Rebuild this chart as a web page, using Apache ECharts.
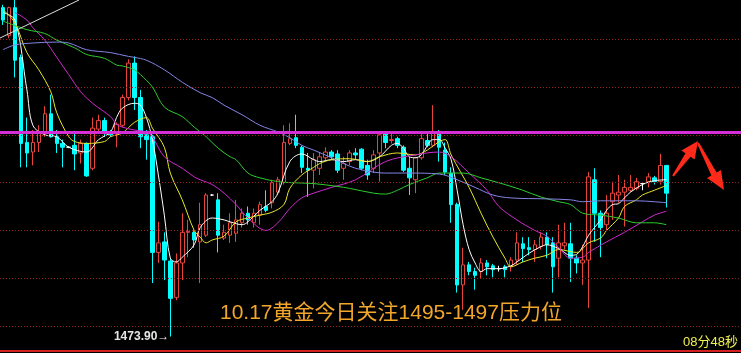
<!DOCTYPE html>
<html><head><meta charset="utf-8">
<script src="https://cdn.jsdelivr.net/npm/echarts@6/dist/echarts.min.js"></script>
<style>html,body{margin:0;padding:0;background:#000;overflow:hidden}#c{width:741px;height:353px}</style>
</head><body><div id="c"></div>
<script>
const opens = [1508.3,1505.4,1508.3,1503.1,1494.2,1493.2,1494.2,1495.3,1497.2,1494.8,1494.1,1493.7,1493.9,1493.1,1494.1,1491.5,1495.6,1496.5,1495.2,1495.2,
1496.0,1498.9,1502.5,1498.9,1495.0,1494.8,1482.7,1483.8,1481.8,1478.0,1481.6,1484.8,1484.8,1483.8,1484.5,1488.7,1488.2,1484.2,1484.5,1484.7,
1485.8,1486.8,1485.8,1486.6,1487.5,1487.9,1489.0,1490.0,1494.1,1494.7,1493.7,1491.5,1491.3,1491.5,1492.6,1493.2,1493.0,1491.5,1492.2,1493.1,
1493.5,1491.8,1491.5,1493.1,1495.2,1494.4,1494.6,1493.7,1491.5,1490.3,1492.6,1494.4,1493.9,1495.3,1493.4,1491.0,1487.7,1479.3,1481.4,1480.7,
1480.7,1481.6,1481.3,1481.0,1481.2,1481.2,1481.9,1483.6,1483.2,1483.0,1483.3,1484.3,1483.7,1482.1,1483.4,1483.6,1482.1,1481.6,1481.9,1490.3,
1486.8,1485.6,1488.0,1488.7,1489.0,1489.2,1489.4,1489.9,1490.1,1490.5,1490.1,1491.8];
const closes = [1507.0,1508.3,1502.8,1494.1,1493.1,1494.2,1495.3,1497.2,1494.8,1494.1,1493.7,1493.7,1493.0,1494.1,1490.7,1495.7,1496.5,1495.3,1495.0,1496.1,
1498.9,1502.5,1498.9,1494.8,1494.5,1482.7,1483.7,1481.9,1477.9,1481.6,1484.8,1484.9,1484.0,1485.6,1488.7,1488.7,1484.5,1484.8,1485.8,1486.1,
1486.8,1486.1,1486.8,1487.7,1487.1,1490.0,1490.3,1494.2,1494.6,1493.9,1491.6,1491.3,1492.4,1492.7,1493.2,1492.7,1491.3,1492.0,1493.1,1492.9,
1491.5,1490.8,1492.9,1495.0,1494.2,1494.5,1493.9,1491.3,1490.5,1492.6,1494.6,1493.9,1495.2,1493.7,1491.1,1487.7,1479.3,1481.4,1480.7,1480.3,
1481.6,1481.2,1480.9,1481.0,1480.9,1481.9,1483.7,1483.1,1483.0,1483.5,1484.3,1483.5,1481.2,1483.7,1483.7,1482.1,1481.6,1481.9,1490.6,1486.8,
1485.3,1486.8,1488.9,1489.0,1489.5,1489.5,1490.1,1489.9,1490.6,1490.1,1491.8,1488.9];
const lows = [1506.5,1505.1,1501.0,1491.6,1491.6,1491.8,1493.2,1494.8,1494.7,1493.1,1491.6,1493.6,1491.3,1492.0,1490.6,1491.3,1495.3,1494.8,1494.8,1493.7,
1495.8,1498.6,1497.6,1493.6,1492.4,1479.5,1481.6,1479.8,1473.9,1477.7,1479.8,1482.2,1483.2,1479.5,1484.3,1488.6,1482.7,1484.0,1483.7,1483.8,
1485.3,1485.6,1485.3,1485.6,1486.9,1487.3,1488.7,1489.8,1493.9,1493.6,1491.0,1488.5,1489.4,1490.8,1492.2,1492.4,1491.0,1490.3,1491.8,1492.4,
1491.3,1490.3,1491.0,1490.1,1493.6,1494.1,1493.6,1491.1,1488.7,1488.9,1492.4,1493.7,1493.7,1492.2,1490.8,1485.8,1478.5,1476.7,1480.3,1478.8,
1480.0,1480.3,1480.1,1480.7,1480.1,1480.7,1481.4,1481.7,1482.4,1481.7,1483.0,1482.1,1478.5,1480.1,1483.0,1479.6,1480.5,1479.3,1476.9,1483.8,
1482.2,1485.0,1486.1,1487.9,1485.4,1489.0,1489.2,1489.2,1489.5,1489.8,1489.8,1487.4];
const highs = [1508.6,1508.4,1509.1,1503.4,1496.8,1495.5,1496.0,1498.0,1499.2,1495.5,1494.5,1493.8,1495.2,1494.5,1494.2,1496.8,1497.1,1496.8,1495.5,1496.3,
1499.2,1502.9,1503.2,1499.7,1495.5,1495.0,1485.9,1484.8,1482.1,1482.6,1486.8,1486.1,1485.0,1487.9,1488.9,1488.8,1488.9,1485.6,1486.8,1488.2,
1487.3,1487.5,1487.3,1488.0,1489.2,1490.3,1490.6,1496.0,1496.2,1497.1,1493.9,1493.1,1493.1,1493.2,1493.7,1493.4,1493.4,1492.7,1493.4,1493.6,
1493.6,1492.4,1493.4,1495.3,1495.3,1495.3,1494.8,1493.9,1492.7,1492.7,1495.3,1495.3,1498.1,1495.5,1494.2,1491.6,1487.9,1483.2,1481.7,1481.1,
1482.1,1481.9,1481.5,1481.3,1481.4,1482.2,1484.8,1484.3,1484.3,1484.0,1484.8,1484.8,1484.3,1485.6,1485.8,1485.8,1482.4,1483.5,1491.1,1491.5,
1487.1,1488.7,1490.1,1490.8,1490.3,1490.8,1490.5,1490.0,1491.0,1490.7,1493.0,1491.8];

// moving averages: [candle index, price]
const ma5 = [[0,1507.8],[2,1507.0],[4,1499.7],[5,1496.0],[7,1495.0],[9,1494.8],[11,1493.7],[14,1493.2],[16,1494.5],[18,1495.3],[19,1496.8],[20,1497.8],[22,1498.3],[23,1498.1],[24,1496.8],[25,1494.5],[26,1490.8],[27,1486.6],[28,1482.1],[29,1481.7],[30,1482.2],[32,1483.5],[33,1485.3],[35,1486.3],[37,1486.1],[38,1485.9],[40,1485.6],[42,1486.5],[43,1487.1],[45,1488.0],[46,1488.9],[48,1492.2],[50,1493.0],[52,1492.4],[53,1492.2],[55,1492.4],[57,1492.2],[59,1492.4],[61,1492.2],[63,1492.7],[65,1493.9],[66,1494.1],[67,1493.6],[68,1492.7],[69,1492.6],[70,1492.9],[72,1494.5],[73,1494.5],[74,1493.6],[75,1492.4],[76,1489.2],[77,1485.6],[78,1483.0],[79,1481.6],[80,1480.7],[81,1481.0],[83,1481.0],[85,1481.3],[86,1481.7],[88,1482.6],[90,1483.3],[91,1483.5],[93,1483.1],[95,1482.4],[96,1482.5],[97,1483.3],[98,1484.5],[100,1486.1],[101,1487.1],[102,1487.7],[103,1487.8],[104,1488.4],[105,1489.0],[107,1489.8],[109,1490.2],[111,1490.3]];
const ma10 = [[0,1508.1],[2,1506.7],[4,1503.6],[6,1501.8],[8,1499.5],[9,1497.3],[11,1494.8],[12,1494.3],[14,1494.1],[17,1494.3],[18,1494.8],[20,1495.2],[22,1496.3],[24,1496.8],[25,1495.7],[27,1493.7],[28,1491.0],[30,1488.2],[32,1485.0],[33,1484.3],[34,1483.7],[35,1484.0],[37,1484.4],[39,1485.9],[41,1486.3],[43,1486.6],[45,1486.9],[47,1487.7],[48,1489.4],[50,1490.8],[52,1491.6],[53,1492.0],[55,1492.4],[58,1492.5],[61,1492.2],[63,1492.7],[66,1493.1],[69,1492.9],[71,1493.4],[73,1494.3],[74,1494.5],[75,1492.9],[78,1489.5],[80,1486.8],[82,1484.3],[84,1482.1],[85,1481.2],[87,1481.7],[89,1482.1],[91,1482.4],[93,1483.0],[96,1482.7],[98,1483.7],[100,1484.2],[101,1485.0],[103,1486.3],[104,1487.5],[106,1488.2],[107,1488.7],[109,1489.2],[111,1489.7]];
const ma20 = [[2,1507.8],[4,1507.0],[5,1506.2],[7,1504.9],[9,1503.1],[11,1501.3],[13,1499.5],[15,1498.3],[18,1496.9],[19,1496.1],[20,1495.8],[22,1495.5],[24,1495.3],[25,1494.8],[27,1492.7],[30,1491.5],[32,1490.6],[33,1490.3],[35,1489.8],[37,1488.9],[39,1487.7],[41,1486.3],[44,1485.0],[46,1485.8],[48,1487.3],[50,1488.4],[52,1488.9],[55,1489.5],[59,1490.3],[64,1492.2],[69,1492.9],[73,1493.2],[75,1492.7],[78,1491.0],[81,1489.2],[83,1487.5],[86,1486.1],[89,1485.0],[91,1484.4],[93,1483.2],[95,1482.1],[97,1482.2],[98,1482.7],[101,1483.8],[104,1484.8],[107,1485.9],[109,1486.6],[111,1487.0]];
const ma40 = [[0,1506.9],[4,1506.0],[7,1505.6],[9,1504.9],[12,1504.1],[14,1503.4],[17,1503.0],[19,1502.3],[20,1502.2],[22,1501.8],[23,1501.3],[25,1500.0],[27,1497.9],[30,1496.9],[32,1495.8],[34,1494.8],[36,1493.6],[38,1492.7],[39,1492.4],[41,1491.0],[43,1490.5],[46,1490.1],[48,1490.0],[52,1489.9],[56,1489.6],[58,1489.4],[62,1488.9],[64,1488.8],[66,1489.2],[68,1489.8],[71,1490.5],[73,1491.0],[77,1491.0],[80,1490.5],[84,1489.8],[87,1489.2],[90,1488.5],[93,1488.0],[95,1487.7],[97,1486.8],[100,1486.6],[103,1486.3],[106,1485.8],[109,1485.8],[111,1485.6]];
const ma60 = [[0,1503.9],[2,1504.4],[5,1504.6],[9,1504.7],[11,1504.6],[14,1503.9],[18,1503.6],[21,1503.2],[22,1503.1],[24,1502.8],[27,1501.8],[30,1500.5],[33,1499.4],[35,1498.9],[37,1498.1],[40,1497.1],[43,1496.0],[46,1495.3],[48,1494.7],[50,1493.9],[52,1493.4],[55,1492.6],[57,1492.0],[59,1491.5],[62,1491.1],[64,1491.0],[68,1491.0],[73,1490.9],[76,1490.3],[79,1489.5],[82,1488.7],[85,1488.4],[91,1488.3],[95,1488.2],[97,1488.0],[100,1488.1],[106,1488.1],[109,1488.0],[111,1487.9]];

const gridLevels = [1475,1480,1485,1490,1495,1500,1505];
const resistance = 1495.3;
const lowIndex = 28;
const lowValue = 1473.90;
const totalSlots = 124;
const titleText = '10.17黄金今日关注1495-1497压力位';
const timerText = '08分48秒';

const cats = [];
for (let i = 0; i < totalSlots; i++) cats.push(String(i));
const kdata = opens.map((o, i) => [o, closes[i], lows[i], highs[i]]);

function maSeries(name, data, color) {
  return { name, type: 'line', data, smooth: 0.35, showSymbol: false, symbol: 'none',
    connectNulls: true, lineStyle: { color, width: 1 }, z: 4, silent: true, animation: false };
}

const chart = echarts.init(document.getElementById('c'), null, { renderer: 'canvas' });
chart.setOption({
  backgroundColor: '#000000',
  animation: false,
  grid: { left: -2, right: 0, top: 0, bottom: 2 },
  xAxis: { type: 'category', data: cats, boundaryGap: true,
    axisLine: { show: true, lineStyle: { color: '#d42020', width: 2 } },
    axisTick: { show: false }, axisLabel: { show: false }, splitLine: { show: false } },
  yAxis: { type: 'value', min: 1472.39, max: 1509.1, show: false, splitLine: { show: false } },
  series: [
    { name: 'grid', type: 'line', data: [], z: 1, silent: true,
      markLine: { symbol: 'none', silent: true, label: { show: false },
        lineStyle: { color: '#9a2222', type: [1, 2], width: 1 },
        data: gridLevels.map(v => ({ yAxis: v })) } },
    { name: 'K', type: 'candlestick', data: kdata, barWidth: 4, z: 3,
      itemStyle: { color: '#000000', color0: '#00ffff', borderColor: '#e8443c', borderColor0: '#00ffff',
        borderColorDoji: '#ffffff', borderWidth: 1 },
      markPoint: { symbol: 'circle', symbolSize: 0, silent: true,
        data: [{ coord: [lowIndex, lowValue], value: lowValue }],
        label: { show: true, position: 'left', distance: 1, color: '#e6e6e6', fontSize: 12, fontWeight: 'bold',
          fontFamily: 'Liberation Sans, Arial, sans-serif',
          formatter: p => p.value.toFixed(2) + '→' } } },
    maSeries('MA5', ma5, '#ffffff'),
    maSeries('MA10', ma10, '#e8e82a'),
    maSeries('MA20', ma20, '#d02ad0'),
    maSeries('MA40', ma40, '#2ecc2e'),
    maSeries('MA60', ma60, '#8484e6'),
    { name: 'res', type: 'line', data: [], z: 6, silent: true,
      markLine: { symbol: 'none', silent: true, label: { show: false },
        lineStyle: { color: '#d62ed6', type: 'solid', width: 3 },
        data: [{ yAxis: resistance }] } }
  ],
  graphic: [
    { type: 'line', shape: { x1: 0, y1: 38, x2: 79, y2: 0 }, style: { stroke: '#dddddd', lineWidth: 1 }, z: 10 },
    { type: 'text', x: 220, y: 313, style: { text: titleText, fill: '#f2a62a', fontSize: 21,
        fontFamily: 'Liberation Sans, Noto Sans CJK SC, sans-serif', textVerticalAlign: 'middle' }, z: 10 },
    { type: 'text', x: 683, y: 342, style: { text: timerText, fill: '#f0f050', fontSize: 13,
        fontFamily: 'Liberation Sans, Noto Sans CJK SC, sans-serif', textVerticalAlign: 'middle' }, z: 10 },
    { type: 'polygon', shape: { points: [[672.2,175.4],[685.5,153.3],[681.4,150.4],[698,141],[694.6,159.6],[690.5,156.7],[673.8,176.6]] },
      style: { fill: '#ff2a1a' }, z: 10 },
    { type: 'polygon', shape: { points: [[698.9,142.5],[716.6,172.5],[721,170.1],[724,190],[707,177.9],[711.4,175.5],[697.1,143.5]] },
      style: { fill: '#ff2a1a' }, z: 10 }
  ]
});
</script>
</body></html>
